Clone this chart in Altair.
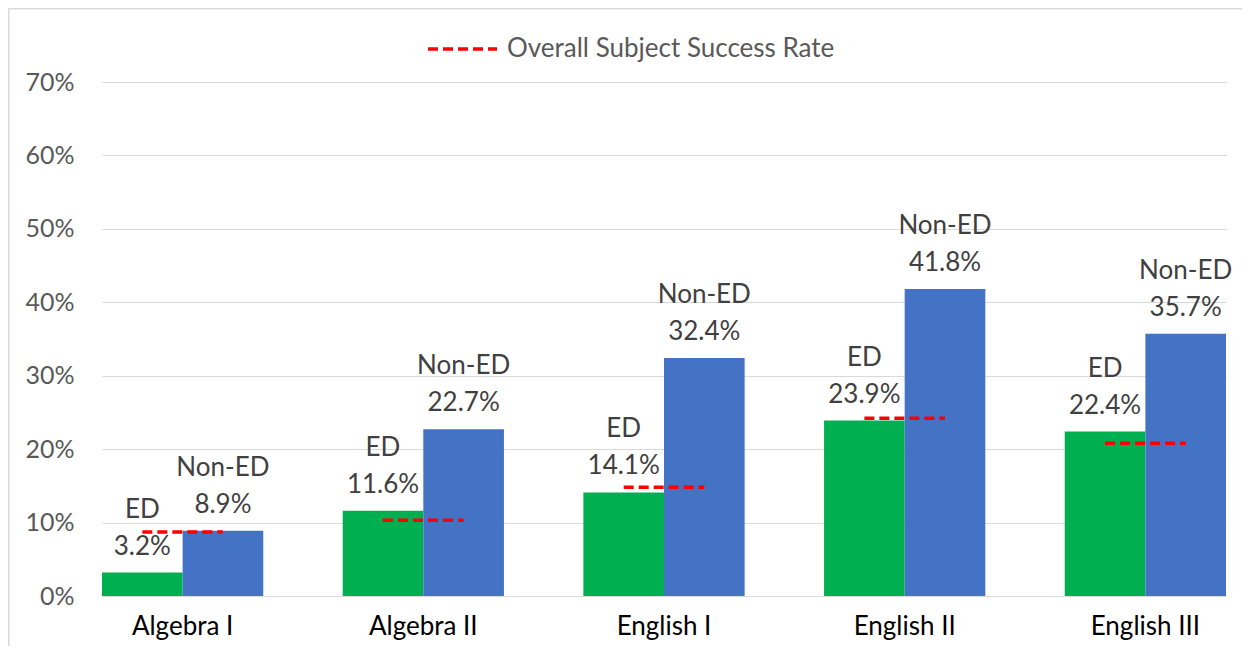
import altair as alt
import pandas as pd

subjects = ["Algebra I", "Algebra II", "English I", "English II", "English III"]
groups = ["ED", "Non-ED"]
ed_rates = [3.2, 11.6, 14.1, 23.9, 22.4]
non_ed_rates = [8.9, 22.7, 32.4, 41.8, 35.7]
overall_rates = [8.7, 10.3, 14.8, 24.2, 20.8]
y_ticks = [0, 0.1, 0.2, 0.3, 0.4, 0.5, 0.6, 0.7]
legend_label = "Overall Subject Success Rate"

rows = []
for s, e, n in zip(subjects, ed_rates, non_ed_rates):
    rows.append({"subject": s, "group": "ED", "value": e / 100, "pct": f"{e:.1f}%"})
    rows.append({"subject": s, "group": "Non-ED", "value": n / 100, "pct": f"{n:.1f}%"})
bars_df = pd.DataFrame(rows)
overall_df = pd.DataFrame({
    "subject": subjects,
    "value": [v / 100 for v in overall_rates],
    "series": [legend_label] * len(subjects),
})

FONT = "Lato"
FS = 26
x_scale = alt.Scale(domain=subjects, paddingInner=0.33, paddingOuter=0)
y_scale = alt.Scale(domain=[0, 0.7], nice=False)
off_scale = alt.Scale(domain=groups, paddingInner=0, paddingOuter=0)

x_axis = alt.Axis(title=None, labelAngle=0, labelFontSize=FS, labelColor="#000000",
                  labelFont=FONT, ticks=False, domain=False, labelPadding=17, grid=False)
y_axis = alt.Axis(title=None, format=".0%", values=y_ticks, labelFontSize=25,
                  labelColor="#595959", labelFont=FONT, ticks=False, domain=False,
                  labelPadding=28, gridColor="#d9d9d9", gridWidth=1.2)

base = alt.Chart(bars_df)
x_plain = alt.X("subject:N", scale=x_scale, sort=subjects)
off_enc = alt.XOffset("group:N", scale=off_scale)
y_plain = alt.Y("value:Q", scale=y_scale)

bars = base.mark_bar().encode(
    x=alt.X("subject:N", scale=x_scale, sort=subjects, axis=x_axis),
    xOffset=off_enc,
    y=alt.Y("value:Q", scale=y_scale, axis=y_axis),
    color=alt.Color("group:N", scale=alt.Scale(domain=groups, range=["#00B050", "#4472C4"]), legend=None),
)
pct_labels = base.mark_text(baseline="alphabetic", dy=-18, fontSize=FS, color="#404040", font=FONT).encode(
    x=x_plain, xOffset=off_enc, y=y_plain, text="pct:N")
grp_labels = base.mark_text(baseline="alphabetic", dy=-55, fontSize=FS, color="#404040", font=FONT).encode(
    x=x_plain, xOffset=off_enc, y=y_plain, text="group:N")

rule = alt.Chart(overall_df).mark_rule(strokeDash=[10, 5], strokeWidth=3.5).encode(
    x=alt.X("subject:N", scale=x_scale, sort=subjects, bandPosition=0.25),
    x2=alt.X2("subject:N", bandPosition=0.75),
    y=alt.Y("value:Q", scale=y_scale),
    color=alt.Color("series:N", scale=alt.Scale(domain=[legend_label], range=["#FF0000"]),
                    legend=alt.Legend(orient="none", legendX=324, legendY=-69.5, title=None,
                                      symbolType="stroke", symbolSize=4761, symbolStrokeWidth=3.5,
                                      symbolDash=[10, 5], symbolStrokeColor="#FF0000",
                                      labelFontSize=FS, labelFont=FONT, labelColor="#595959",
                                      labelOffset=8, labelLimit=1000, padding=0)),
)
border = alt.Chart(pd.DataFrame({"a": [0]})).mark_rect(
    filled=False, stroke="#d9d9d9", strokeWidth=1.5).encode(
    x=alt.value(-93.25), x2=alt.value(1200), y=alt.value(-73.25), y2=alt.value(700))

chart = alt.layer(border, bars, pct_labels, grp_labels, rule).resolve_scale(color="independent").properties(
    width=1124, height=514,
    autosize=alt.AutoSizeParams(type="none"),
    padding={"left": 94, "top": 74, "right": 16, "bottom": 50},
    background="white",
).configure_view(stroke=None)

chart.save("out.html", embed_options={"renderer": "svg", "actions": False})
